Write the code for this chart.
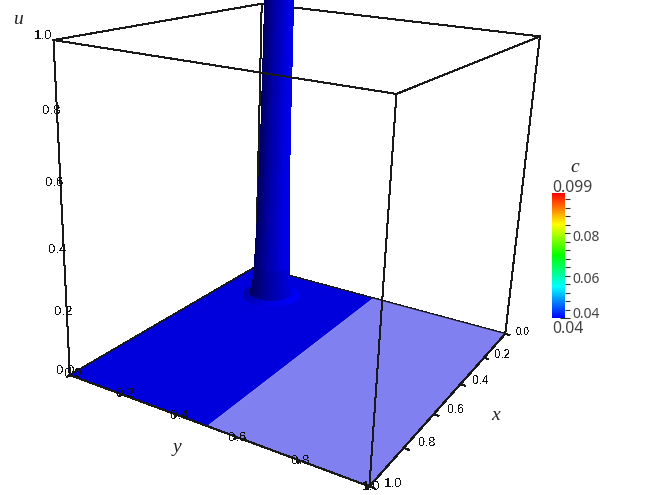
import numpy as np, matplotlib
matplotlib.use('Agg')
import matplotlib.pyplot as plt, seaborn as sns
from matplotlib.cm import ScalarMappable
from matplotlib.colors import Normalize
from matplotlib.ticker import MultipleLocator
from mpl_toolkits.mplot3d import proj3d
sns.set_theme(style='white')
W,H=655,495
axis_ticks=[0.0,0.2,0.4,0.6,0.8,1.0]
tick_labels=['0.0','0.2','0.4','0.6','0.8','1.0']
floor_x=[0.0,1.0]
floor_y_left=[0.0,0.5]
floor_y_right=[0.5,1.0]
column_u=[0.0,0.004,0.01,0.02,0.04,0.07,0.12,0.2,0.3,0.6,1.0,1.5]
column_r=[0.1,0.088,0.078,0.072,0.068,0.065,0.062,0.059,0.055,0.05,0.047,0.045]
column_x,column_y=0.183,0.186
color_min,color_max=0.04,0.099
color_ticks=[0.04,0.06,0.08]
corners=np.array([[1,0,1],[1,1,1],[0,1,1],[0,0,1],[1,0,0],[1,1,0],[0,1,0],[0,0,0]],float)
ELEV,AZIM,ROLL,FOCAL=19.14533,29.55658,-2.2506,np.exp(-1.1485)
BOX=(1,0.98556,0.9848)
S,TX,TY=3040.477,306.497,290.441

fig=plt.figure(figsize=(6.55,4.95),dpi=100)
ax=fig.add_axes([(TX-0.095*S)/W,(TY-0.095*S)/H,0.185*S/W,0.185*S/H],projection='3d',computed_zorder=False)
ax.view_init(ELEV,AZIM,ROLL)
ax.set_proj_type('persp',focal_length=FOCAL)
ax.set_box_aspect(BOX,zoom=1)
ax.set_axis_off();ax.patch.set_alpha(0)
def edge(a,b,z):
    ax.plot([a[0],b[0]],[a[1],b[1]],[a[2],b[2]],color='k',lw=0.72,antialiased=False,zorder=z)
for i,j in [(0,3),(3,2),(3,7),(4,7),(7,6)]:
    edge(corners[i],corners[j],1)
for i,j in [(0,1),(1,2),(0,4),(1,5),(2,6),(4,5),(5,6)]:
    edge(corners[i],corners[j],6)
fx,fy=np.meshgrid(floor_x,floor_y_left)
ax.plot_surface(fx,fy,np.zeros_like(fx),color='#0000dc',shade=False,linewidth=0,antialiased=False,zorder=2)
fx,fy=np.meshgrid(floor_x,floor_y_right)
ax.plot_surface(fx,fy,np.zeros_like(fx),color='#8080f0',shade=False,linewidth=0,antialiased=False,zorder=2)
th=np.linspace(0,2*np.pi,97)
T,U=np.meshgrid(th,column_u)
R=np.interp(U,column_u,column_r)
shade_cmap=sns.blend_palette(['#00005f','#0000a8','#0000e0','#0000f5'],as_cmap=True)
t=0.42+0.42*np.cos(T-np.deg2rad(AZIM+90))
t=np.where(U<0.1,t*0.8,t)
t=np.where(U<0.01,t+0.38,t)
ax.plot_surface(column_x+R*np.cos(T),column_y+R*np.sin(T),U,facecolors=shade_cmap(t),rstride=1,cstride=1,shade=False,linewidth=0,antialiased=False,zorder=3)
ax.set_xlim(0,1,view_margin=0);ax.set_ylim(0,1,view_margin=0);ax.set_zlim(0,1,view_margin=0)
M=ax.get_proj()
def lab(px,py,pz,text,dx,dy,fs):
    X,Y,_=proj3d.proj_transform(px,py,pz,M)
    a=ax.annotate(text,(X,Y),xytext=(dx,dy),textcoords='offset pixels',ha='center',va='center',fontsize=fs,family='Liberation Sans',color='#111',annotation_clip=False,zorder=8)
    a.set_antialiased(False)
xs=[7.2,8.3,8.5,8.8,9,9.5]
for v,l,f,d in zip(axis_ticks,tick_labels,xs,[(17,2),(19,3),(20,3),(22,4),(24,5),(24,2)]):
    lab(v,1,0,l,d[0],d[1],f)
    ax.plot([v,v],[1,1.015],[0,0],color='k',lw=.72,antialiased=False,zorder=6)
for v,l,f,d in zip(axis_ticks,tick_labels,[9,9.5,9.5,9.5,9.5,9.5],[(3,1),(4,0),(2,-1),(1,-1),(0,0),(2,-1)]):
    lab(1,v,0,l,d[0],d[1],f)
    ax.plot([1,1.012],[v,v],[0,0],color='k',lw=.72,antialiased=False,zorder=6)
for v,l,d in zip(axis_ticks,tick_labels,[(-4,4),(-3,2),(-6,1),(-6,1),(-5,3),(-10,4)]):
    lab(1,0,v,l,d[0],d[1],9.5)
serif=dict(family='Liberation Serif',style='italic',fontsize=14,color='#222',ha='center',va='center')
fig.text(18/W,1-20/H,'u',**serif);fig.text(177/W,1-447/H,'y',**serif)
fig.text(496/W,1-415/H,'x',**serif);fig.text(575/W,1-167/H,'c',**serif)
cax=fig.add_axes([552/W,1-318/H,13/W,125/H])
cmap=sns.blend_palette(['#0000ff','#00ffff','#00ff00','#ffff00','#ff0000'],as_cmap=True)
cb=fig.colorbar(ScalarMappable(Normalize(color_min,color_max),cmap),cax=cax,ticks=color_ticks)
cb.outline.set_visible(False)
cb.ax.yaxis.set_minor_locator(MultipleLocator(0.004))
cb.ax.tick_params(which='major',direction='inout',length=7.2,width=.8,color='#333',right=True,labelright=False)
cb.ax.tick_params(which='minor',direction='out',length=3.6,width=.8,color='#333',right=True)
grey=dict(family='Noto Sans',color='#444',ha='center',va='center',annotation_clip=False)
for v,yo in zip(color_ticks,[4,-4,-4]):
    cax.annotate(f'{v:.2f}',(1,v),xycoords=('axes fraction','data'),xytext=(21,yo),textcoords='offset pixels',fontsize=10,**grey)
fig.text(572/W,1-188/H,f'{color_max:.3f}',fontsize=11.4,family='Noto Sans',color='#444',ha='center',va='center')
fig.text(568/W,1-329/H,f'{color_min:.2f}',fontsize=11.4,family='Noto Sans',color='#444',ha='center',va='center')
fig.savefig('out.png',dpi=100)
